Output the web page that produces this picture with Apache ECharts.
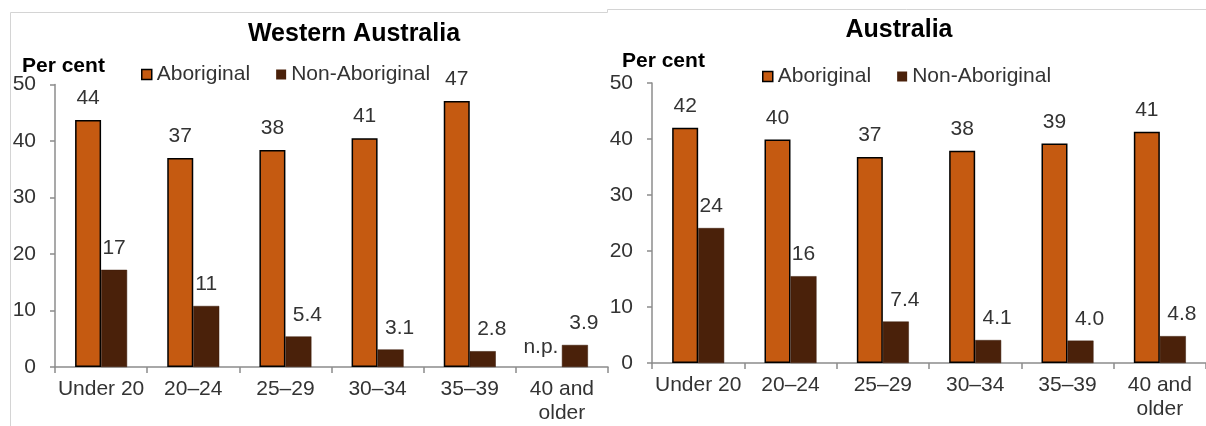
<!DOCTYPE html>
<html>
<head>
<meta charset="utf-8">
<script src="https://cdn.jsdelivr.net/npm/echarts@6/dist/echarts.min.js"></script>
<style>
html,body{margin:0;padding:0;background:#fff;}
#chart{width:1206px;height:426px;}
</style>
</head>
<body>
<div id="chart"></div>
<script>
// ---- Data ----
const categories = ['Under 20', '20–24', '25–29', '30–34', '35–39', '40 and\nolder'];
const seriesNames = ['Aboriginal', 'Non-Aboriginal'];
const waAboriginal = [43.7, 37.0, 38.4, 40.5, 47.1, null]; // last value n.p.
const waNonAboriginal = [17.2, 10.8, 5.4, 3.1, 2.8, 3.9];
const auAboriginal = [42.0, 39.9, 36.8, 37.9, 39.2, 41.3];
const auNonAboriginal = [24.1, 15.5, 7.4, 4.1, 4.0, 4.8];
const yTicks = [0, 10, 20, 30, 40, 50];
const panelTitles = ['Western Australia', 'Australia'];
const yAxisTitle = 'Per cent';
const notPublished = 'n.p.';

// ---- Styles ----
const FONT = '"Liberation Sans", Arial, sans-serif';
const FS = 21;
const ORANGE = '#C55A11';
const BROWN = '#4A210A';
const AXIS = '#8c8c8c';
const TEXT = '#333333';

function fmt(v) { return v >= 10 ? String(Math.round(v)) : v.toFixed(1); }

function buildData(arr, isNonAb) {
  return arr.map(v => {
    if (v === null) {
      return { value: 0, itemStyle: { color: 'transparent', borderWidth: 0 },
               label: { formatter: notPublished, offset: [-8, 2] } };
    }
    const item = { value: v };
    if (isNonAb && v < 10) item.label = { offset: [9, 0] };
    return item;
  });
}

const labelBase = {
  show: true, position: 'top', distance: 11,
  fontFamily: FONT, fontSize: FS, color: TEXT,
  formatter: p => fmt(p.value)
};

function xAxisFor(gridIndex) {
  return {
    type: 'category', gridIndex, data: categories,
    axisLine: { lineStyle: { color: AXIS, width: 1.5 } },
    axisTick: { show: true, length: 6, inside: false, lineStyle: { color: AXIS, width: 1.5 } },
    axisLabel: { fontFamily: FONT, fontSize: FS, color: TEXT, margin: 10, lineHeight: 24, interval: 0 }
  };
}
function yAxisFor(gridIndex) {
  return {
    type: 'value', gridIndex, min: yTicks[0], max: yTicks[yTicks.length - 1], interval: 10,
    splitLine: { show: false },
    axisLine: { show: true, lineStyle: { color: AXIS, width: 1.5 } },
    axisTick: { show: true, length: 5, lineStyle: { color: AXIS, width: 1.5 } },
    axisLabel: { fontFamily: FONT, fontSize: FS, color: TEXT, margin: 19 }
  };
}

const abStyle = { color: ORANGE, borderColor: '#000', borderWidth: 1.5 };
const nonStyle = { color: BROWN, borderColor: '#3a1a08', borderWidth: 0.5 };

const legendText = { fontFamily: FONT, fontSize: FS, color: TEXT };
function legendFor(left, top) {
  return {
    left, top, itemWidth: 10, itemHeight: 10, itemGap: 26, icon: 'rect',
    textStyle: legendText,
    data: [
      { name: seriesNames[0], itemStyle: { color: ORANGE, borderColor: '#000', borderWidth: 1.5 } },
      { name: seriesNames[1], itemStyle: { color: BROWN, borderWidth: 0 } }
    ],
    selectedMode: false
  };
}

const option = {
  backgroundColor: '#fff',
  animation: false,
  title: [
    { text: panelTitles[0], left: 349, top: 17, textAlign: 'center',
      textStyle: { fontFamily: FONT, fontSize: 25, fontWeight: 'bold', color: '#000' } },
    { text: yAxisTitle, left: 17, top: 51,
      textStyle: { fontFamily: FONT, fontSize: FS, fontWeight: 'bold', color: '#000' } },
    { text: panelTitles[1], left: 894, top: 13, textAlign: 'center',
      textStyle: { fontFamily: FONT, fontSize: 25, fontWeight: 'bold', color: '#000' } },
    { text: yAxisTitle, left: 617, top: 46,
      textStyle: { fontFamily: FONT, fontSize: FS, fontWeight: 'bold', color: '#000' } }
  ],
  legend: [ legendFor(136, 59), legendFor(757, 61) ],
  grid: [
    { left: 55, right: 598, top: 84.5, bottom: 59 },
    { left: 652, right: -1, top: 83, bottom: 63 }
  ],
  xAxis: [ xAxisFor(0), xAxisFor(1) ],
  yAxis: [ yAxisFor(0), yAxisFor(1) ],
  series: [
    { name: seriesNames[0], type: 'bar', xAxisIndex: 0, yAxisIndex: 0, barWidth: 26, barGap: '0%',
      itemStyle: abStyle, label: labelBase, data: buildData(waAboriginal, false) },
    { name: seriesNames[1], type: 'bar', xAxisIndex: 0, yAxisIndex: 0, barWidth: 26, barGap: '0%',
      itemStyle: nonStyle, label: labelBase, data: buildData(waNonAboriginal, true) },
    { name: seriesNames[0], type: 'bar', xAxisIndex: 1, yAxisIndex: 1, barWidth: 26, barGap: '0%',
      itemStyle: abStyle, label: labelBase, data: buildData(auAboriginal, false) },
    { name: seriesNames[1], type: 'bar', xAxisIndex: 1, yAxisIndex: 1, barWidth: 26, barGap: '0%',
      itemStyle: nonStyle, label: labelBase, data: buildData(auNonAboriginal, true) }
  ],
  graphic: [
    { type: 'polyline', silent: true, shape: { points: [[10.5, 426], [10.5, 12.5], [607.5, 12.5], [607.5, 9.5], [1206, 9.5]] },
      style: { stroke: '#d4d4d4', lineWidth: 1, fill: null } }
  ]
};

const chart = echarts.init(document.getElementById('chart'), null, { renderer: 'canvas' });
chart.setOption(option);
</script>
</body>
</html>
